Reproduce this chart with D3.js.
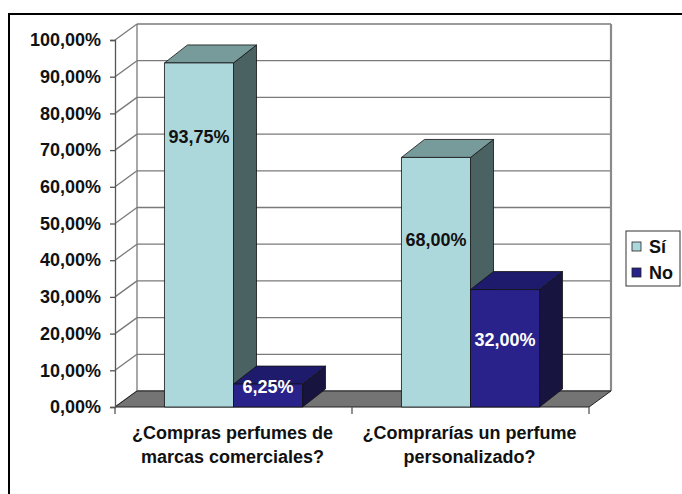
<!DOCTYPE html>
<html>
<head>
<meta charset="utf-8">
<script src="https://cdn.jsdelivr.net/npm/d3@7"></script>
<style>
  html, body { margin: 0; padding: 0; background: #fff; }
  svg { display: block; }
  text { font-family: "Liberation Sans", Arial, Helvetica, sans-serif; font-weight: bold; }
</style>
</head>
<body>
<svg id="chart" width="682" height="494"></svg>
<script>
// Survey answers, in percent
const categories = ["¿Compras perfumes de marcas comerciales?", "¿Comprarías un perfume personalizado?"];
const categoryLines = [["¿Compras perfumes de", "marcas comerciales?"], ["¿Comprarías un perfume", "personalizado?"]];
const seriesNames = ["Sí", "No"];
const siValues = [93.75, 68.00];
const noValues = [6.25, 32.00];
const yTicks = [0, 10, 20, 30, 40, 50, 60, 70, 80, 90, 100];
// level (in %) at which each value label sits inside its bar
const siLabelAt = [73.6, 45.5];
const noLabelAt = [5.4, 18.3];

const svg = d3.select("#chart");

const esLocale = d3.formatLocale({ decimal: ",", thousands: ".", grouping: [3], currency: ["", " €"] });
const pct = v => esLocale.format(".2f")(v) + "%";

// plot geometry
const front = { left: 115, right: 589, top: 40, bottom: 407 };
const wall = { dx: 22, dy: -16 };   // depth of the back wall / floor
const depth = { dx: 23, dy: -18 };  // depth of each bar

const y = d3.scaleLinear().domain([0, 100]).range([front.bottom, front.top]);
const x = d3.scaleBand().domain(categories).range([front.left, front.right]);
const xs = d3.scaleBand().domain(seriesNames).range([0, x.bandwidth()]).paddingInner(0).paddingOuter(0.717);

const colors = {
  "Sí": { front: "#acd8dc", top: "#779a9a", side: "#4a6262", label: "#111" },
  "No": { front: "#28228a", top: "#1f1b6c", side: "#17143f", label: "#fff" }
};

// outer frame
svg.append("rect").attr("x", 9).attr("y", 14).attr("width", 700).attr("height", 520)
  .attr("fill", "none").attr("stroke", "#000").attr("stroke-width", 2);

const gridColor = "#7a7a7a";

// back wall
const bx0 = front.left + wall.dx, bx1 = front.right + wall.dx;
svg.append("rect").attr("x", bx0).attr("y", y(100) + wall.dy)
  .attr("width", bx1 - bx0).attr("height", y(0) - y(100)).attr("fill", "#fff");

// horizontal gridlines on the back wall and diagonal lines on the side wall
const grid = svg.append("g").attr("stroke", gridColor).attr("stroke-width", 1.3).attr("fill", "none");
yTicks.forEach(t => {
  grid.append("line").attr("x1", bx0).attr("x2", bx1)
    .attr("y1", y(t) + wall.dy).attr("y2", y(t) + wall.dy);
  grid.append("line").attr("x1", front.left).attr("y1", y(t))
    .attr("x2", bx0).attr("y2", y(t) + wall.dy);
});
grid.append("line").attr("x1", bx0).attr("x2", bx0).attr("y1", y(100) + wall.dy).attr("y2", y(0) + wall.dy);
grid.append("line").attr("x1", bx1).attr("x2", bx1).attr("y1", y(100) + wall.dy).attr("y2", y(0) + wall.dy)
  .attr("stroke-width", 2.2).attr("stroke", "#8a8a8a");

// floor
svg.append("path")
  .attr("d", d3.line()([[front.left, y(0)], [front.right, y(0)], [bx1, y(0) + wall.dy], [bx0, y(0) + wall.dy]]) + "Z")
  .attr("fill", "#747474").attr("stroke", "#222").attr("stroke-width", 1);

// value axis
const yAxis = d3.axisLeft(y).tickValues(yTicks).tickSize(5).tickPadding(9).tickFormat(pct);
const ya = svg.append("g").attr("transform", `translate(${front.left},0)`).call(yAxis);
ya.select(".domain").attr("stroke", "#555").attr("stroke-width", 1.3);
ya.selectAll(".tick line").attr("stroke", "#555").attr("stroke-width", 1.3);
ya.selectAll(".tick text").attr("font-size", 18).attr("fill", "#111")
  .attr("font-family", "'Liberation Sans', Arial, sans-serif").attr("font-weight", "bold");

// category axis ticks
const catTicks = [front.left, ...categories.map(c => x(c) + x.bandwidth())];
svg.append("g").selectAll("line").data(catTicks).join("line")
  .attr("x1", d => d).attr("x2", d => d).attr("y1", y(0)).attr("y2", y(0) + 7)
  .attr("stroke", "#555").attr("stroke-width", 1.3);

// category labels
categories.forEach((c, i) => {
  const t = svg.append("text").attr("x", x(c) + x.bandwidth() / 2 - 1).attr("y", 439)
    .attr("text-anchor", "middle").attr("font-size", 18).attr("fill", "#111");
  categoryLines[i].forEach((ln, j) => {
    t.append("tspan").attr("x", x(c) + x.bandwidth() / 2 - 1).attr("dy", j === 0 ? 0 : 24).text(ln);
  });
});

// 3D bars
function bar(cat, s, v) {
  const x0 = x(cat) + xs(s), x1 = x0 + xs.bandwidth();
  const yt = y(v), yb = y(0);
  const c = colors[s];
  const g = svg.append("g").attr("stroke", "#111").attr("stroke-width", 0.8).attr("stroke-linejoin", "round");
  g.append("path").attr("fill", c.side)
    .attr("d", d3.line()([[x1, yt], [x1 + depth.dx, yt + depth.dy], [x1 + depth.dx, yb + depth.dy], [x1, yb]]) + "Z");
  g.append("path").attr("fill", c.top)
    .attr("d", d3.line()([[x0, yt], [x1, yt], [x1 + depth.dx, yt + depth.dy], [x0 + depth.dx, yt + depth.dy]]) + "Z");
  g.append("rect").attr("fill", c.front).attr("x", x0).attr("y", yt).attr("width", x1 - x0).attr("height", yb - yt);
}
function label(cat, s, v, at) {
  const x0 = x(cat) + xs(s);
  svg.append("text").attr("x", x0 + xs.bandwidth() / 2).attr("y", y(at))
    .attr("dy", "0.35em").attr("text-anchor", "middle").attr("font-size", 18)
    .attr("fill", colors[s].label).text(pct(v));
}
categories.forEach((c, i) => {
  bar(c, "Sí", siValues[i]);
  bar(c, "No", noValues[i]);
});
categories.forEach((c, i) => {
  label(c, "Sí", siValues[i], siLabelAt[i]);
  label(c, "No", noValues[i], noLabelAt[i]);
});

// legend
const lg = svg.append("g");
lg.append("rect").attr("x", 626).attr("y", 231).attr("width", 54).attr("height", 55)
  .attr("fill", "#fff").attr("stroke", "#333").attr("stroke-width", 1);
seriesNames.forEach((s, i) => {
  const yy = 242 + i * 26;
  lg.append("rect").attr("x", 632).attr("y", yy).attr("width", 9).attr("height", 9)
    .attr("fill", colors[s].front).attr("stroke", "#222").attr("stroke-width", 0.8);
  lg.append("text").attr("x", 649).attr("y", yy + 11).attr("font-size", 18).attr("fill", "#111").text(s);
});
</script>
</body>
</html>
